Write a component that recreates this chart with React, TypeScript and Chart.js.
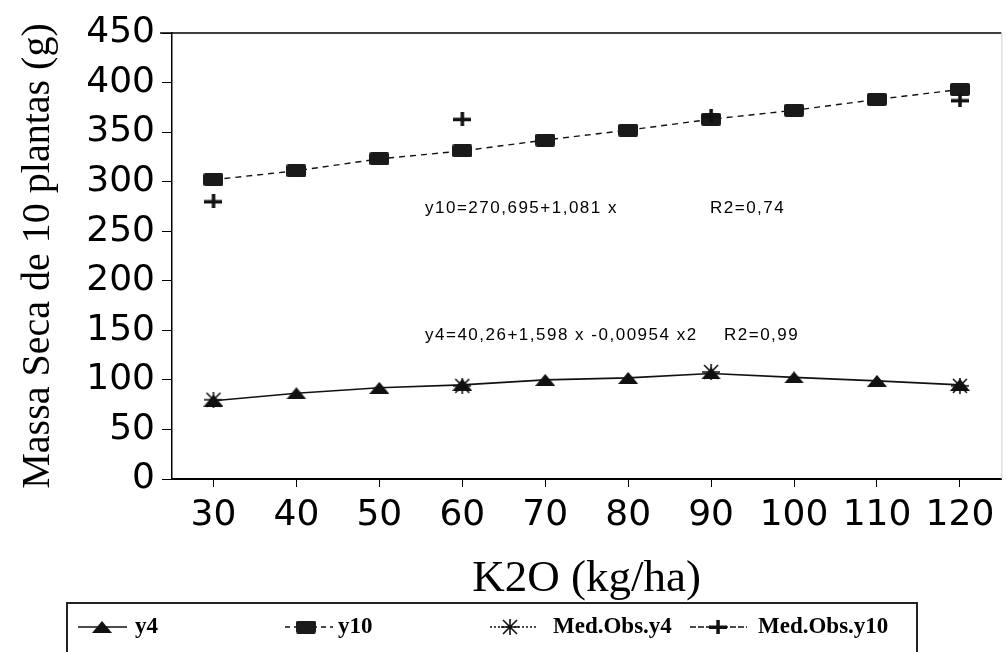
import React, { useEffect, useRef } from 'react';
import { Chart, registerables } from 'chart.js';

Chart.register(...registerables);

// ---- data ----
const categories = ['30', '40', '50', '60', '70', '80', '90', '100', '110', '120'];
const y4Values = [79, 86.5, 92, 95, 100, 102, 106.5, 102.5, 99, 95];
const y10Values = [302, 311, 323, 331, 342, 352, 363, 372, 383, 393];
const obsY4Values = [80, null, null, 94, null, null, 108, null, null, 94];
const obsY10Values = [280, null, null, 363, null, null, 366, null, null, 382];
const yMin = 0;
const yMax = 450;
const yStep = 50;
const seriesNames = ['y4', 'y10', 'Med.Obs.y4', 'Med.Obs.y10'];
const equationTexts = ['y10=270,695+1,081 x', 'R2=0,74', 'y4=40,26+1,598 x -0,00954 x2', 'R2=0,99'];
const yTitle = 'Massa Seca de 10 plantas (g)';
const xTitle = 'K2O (kg/ha)';

function makeCanvas(w: number, h: number, draw: (c: CanvasRenderingContext2D) => void) {
  const c = document.createElement('canvas');
  c.width = w;
  c.height = h;
  const ctx = c.getContext('2d')!;
  draw(ctx);
  return c;
}

function makeMarkers() {
  const tri = makeCanvas(20, 12, (c) => {
    c.fillStyle = '#111';
    c.beginPath();
    c.moveTo(0, 12);
    c.lineTo(10, 0);
    c.lineTo(20, 12);
    c.closePath();
    c.fill();
  });
  const sq = makeCanvas(20, 13, (c) => {
    c.fillStyle = '#1a1a1a';
    c.beginPath();
    (c as any).roundRect(0, 0, 20, 13, 2);
    c.fill();
  });
  const ast = makeCanvas(18, 16, (c) => {
    c.strokeStyle = '#111';
    c.lineWidth = 1.6;
    c.beginPath();
    c.moveTo(0, 8); c.lineTo(18, 8);
    c.moveTo(9, 0); c.lineTo(9, 16);
    c.moveTo(2, 1); c.lineTo(16, 15);
    c.moveTo(16, 1); c.lineTo(2, 15);
    c.stroke();
  });
  const plus = makeCanvas(18, 14, (c) => {
    c.fillStyle = '#111';
    c.fillRect(0, 5.5, 18, 3.5);
    c.fillRect(7.3, 0, 3.5, 14);
  });
  return { tri, sq, ast, plus };
}

export default function App() {
  const ref = useRef<HTMLCanvasElement | null>(null);

  useEffect(() => {
    if (!ref.current) return;
    const m = makeMarkers();

    const overlay = {
      id: 'overlay',
      afterDraw(chart: any) {
        const ctx: CanvasRenderingContext2D = chart.ctx;
        const ca = chart.chartArea;
        const ys = chart.scales.y;
        ctx.save();
        // top frame line
        ctx.strokeStyle = '#000';
        ctx.lineWidth = 1.5;
        ctx.beginPath();
        ctx.moveTo(ca.left - 12, ca.top);
        ctx.lineTo(ca.right, ca.top);
        ctx.stroke();
        // faint right edge
        ctx.strokeStyle = '#cfcfcf';
        ctx.lineWidth = 1;
        ctx.beginPath();
        ctx.moveTo(ca.right + 0.5, ca.top);
        ctx.lineTo(ca.right + 0.5, ca.bottom);
        ctx.stroke();

        // equations
        ctx.fillStyle = '#000';
        ctx.font = '17px "Liberation Sans", Arial, sans-serif';
        (ctx as any).letterSpacing = '1.5px';
        ctx.textBaseline = 'middle';
        ctx.textAlign = 'left';
        const yA = ys.getPixelForValue(273);
        const yB = ys.getPixelForValue(145);
        ctx.fillText(equationTexts[0], ca.left + 253, yA);
        ctx.fillText(equationTexts[1], ca.left + 538, yA);
        ctx.fillText(equationTexts[2], ca.left + 253, yB);
        ctx.fillText(equationTexts[3], ca.left + 552, yB);
        (ctx as any).letterSpacing = '0px';

        // legend box
        const H = chart.height;
        const top = H - 49;
        const cy = top + 24;
        ctx.strokeStyle = '#222';
        ctx.lineWidth = 2;
        ctx.beginPath();
        ctx.moveTo(67, H + 2);
        ctx.lineTo(67, top);
        ctx.lineTo(917, top);
        ctx.lineTo(917, H + 2);
        ctx.stroke();

        const items = [
          { x0: 78, x1: 127, xm: 102, tx: 135, dash: [] as number[], img: m.tri },
          { x0: 285, x1: 333, xm: 306, tx: 338, dash: [5, 4], img: m.sq },
          { x0: 490, x1: 537, xm: 510, tx: 553, dash: [2, 2], img: m.ast },
          { x0: 690, x1: 747, xm: 718, tx: 758, dash: [6, 2], img: m.plus },
        ];
        ctx.font = 'bold 23px "Liberation Serif", "Times New Roman", serif';
        items.forEach((it, i) => {
          ctx.strokeStyle = '#111';
          ctx.lineWidth = 1.5;
          ctx.setLineDash(it.dash);
          ctx.beginPath();
          ctx.moveTo(it.x0, cy);
          ctx.lineTo(it.x1, cy);
          ctx.stroke();
          ctx.setLineDash([]);
          ctx.drawImage(it.img, it.xm - it.img.width / 2, cy - it.img.height / 2);
          ctx.fillStyle = '#000';
          ctx.textBaseline = 'middle';
          ctx.fillText(seriesNames[i], it.tx, cy);
        });
        ctx.restore();
      },
    };

    const tickFont = { family: '"DejaVu Sans", sans-serif', size: 36 };
    const chart = new Chart(ref.current, {
      type: 'line',
      data: {
        labels: categories,
        datasets: [
          {
            label: seriesNames[2],
            data: obsY4Values,
            showLine: false,
            pointStyle: m.ast as any,
            borderColor: '#111',
            backgroundColor: '#111',
          },
          {
            label: seriesNames[3],
            data: obsY10Values,
            showLine: false,
            pointStyle: m.plus as any,
            borderColor: '#111',
            backgroundColor: '#111',
          },
          {
            label: seriesNames[0],
            data: y4Values,
            borderColor: '#111',
            borderWidth: 1.6,
            pointStyle: m.tri as any,
            tension: 0,
            fill: false,
          },
          {
            label: seriesNames[1],
            data: y10Values,
            borderColor: '#111',
            borderWidth: 1.4,
            borderDash: [6, 5],
            pointStyle: m.sq as any,
            tension: 0,
            fill: false,
          },
        ],
      },
      options: {
        animation: false,
        responsive: false,
        layout: { padding: { left: 0, right: 2, top: 33, bottom: 52 } },
        plugins: { legend: { display: false }, tooltip: { enabled: false } },
        scales: {
          x: {
            type: 'category',
            offset: true,
            grid: {
              drawOnChartArea: false,
              tickLength: 13,
              tickBorderDash: [7, 6],
              tickColor: '#000',
              tickWidth: 1,
            } as any,
            border: { color: '#000', width: 2 },
            ticks: { font: tickFont, color: '#000', padding: 2, maxRotation: 0, autoSkip: false },
            title: {
              display: true,
              text: xTitle,
              font: { family: '"Liberation Serif", "Times New Roman", serif', size: 45 },
              color: '#000',
              padding: { top: 0, bottom: -6 },
            },
            afterFit: (s: any) => {
              s.height = 121;
            },
          },
          y: {
            min: yMin,
            max: yMax,
            ticks: { stepSize: yStep, font: tickFont, color: '#000', padding: 7, autoSkip: false },
            grid: { drawOnChartArea: false, tickLength: 10, tickColor: '#000' },
            border: { color: '#000', width: 1.5 },
            title: {
              display: true,
              text: yTitle,
              font: { family: '"Liberation Serif", "Times New Roman", serif', size: 40 },
              color: '#000',
              padding: { top: 14, bottom: 0 },
            },
            afterFit: (s: any) => {
              s.width = 172;
            },
          },
        },
      },
      plugins: [overlay],
    });
    return () => chart.destroy();
  }, []);

  return (
    <div style={{ position: 'fixed', left: 0, top: 0, width: 1007, height: 652, background: '#fff' }}>
      <canvas ref={ref} width={1007} height={652} style={{ display: 'block' }} />
    </div>
  );
}
